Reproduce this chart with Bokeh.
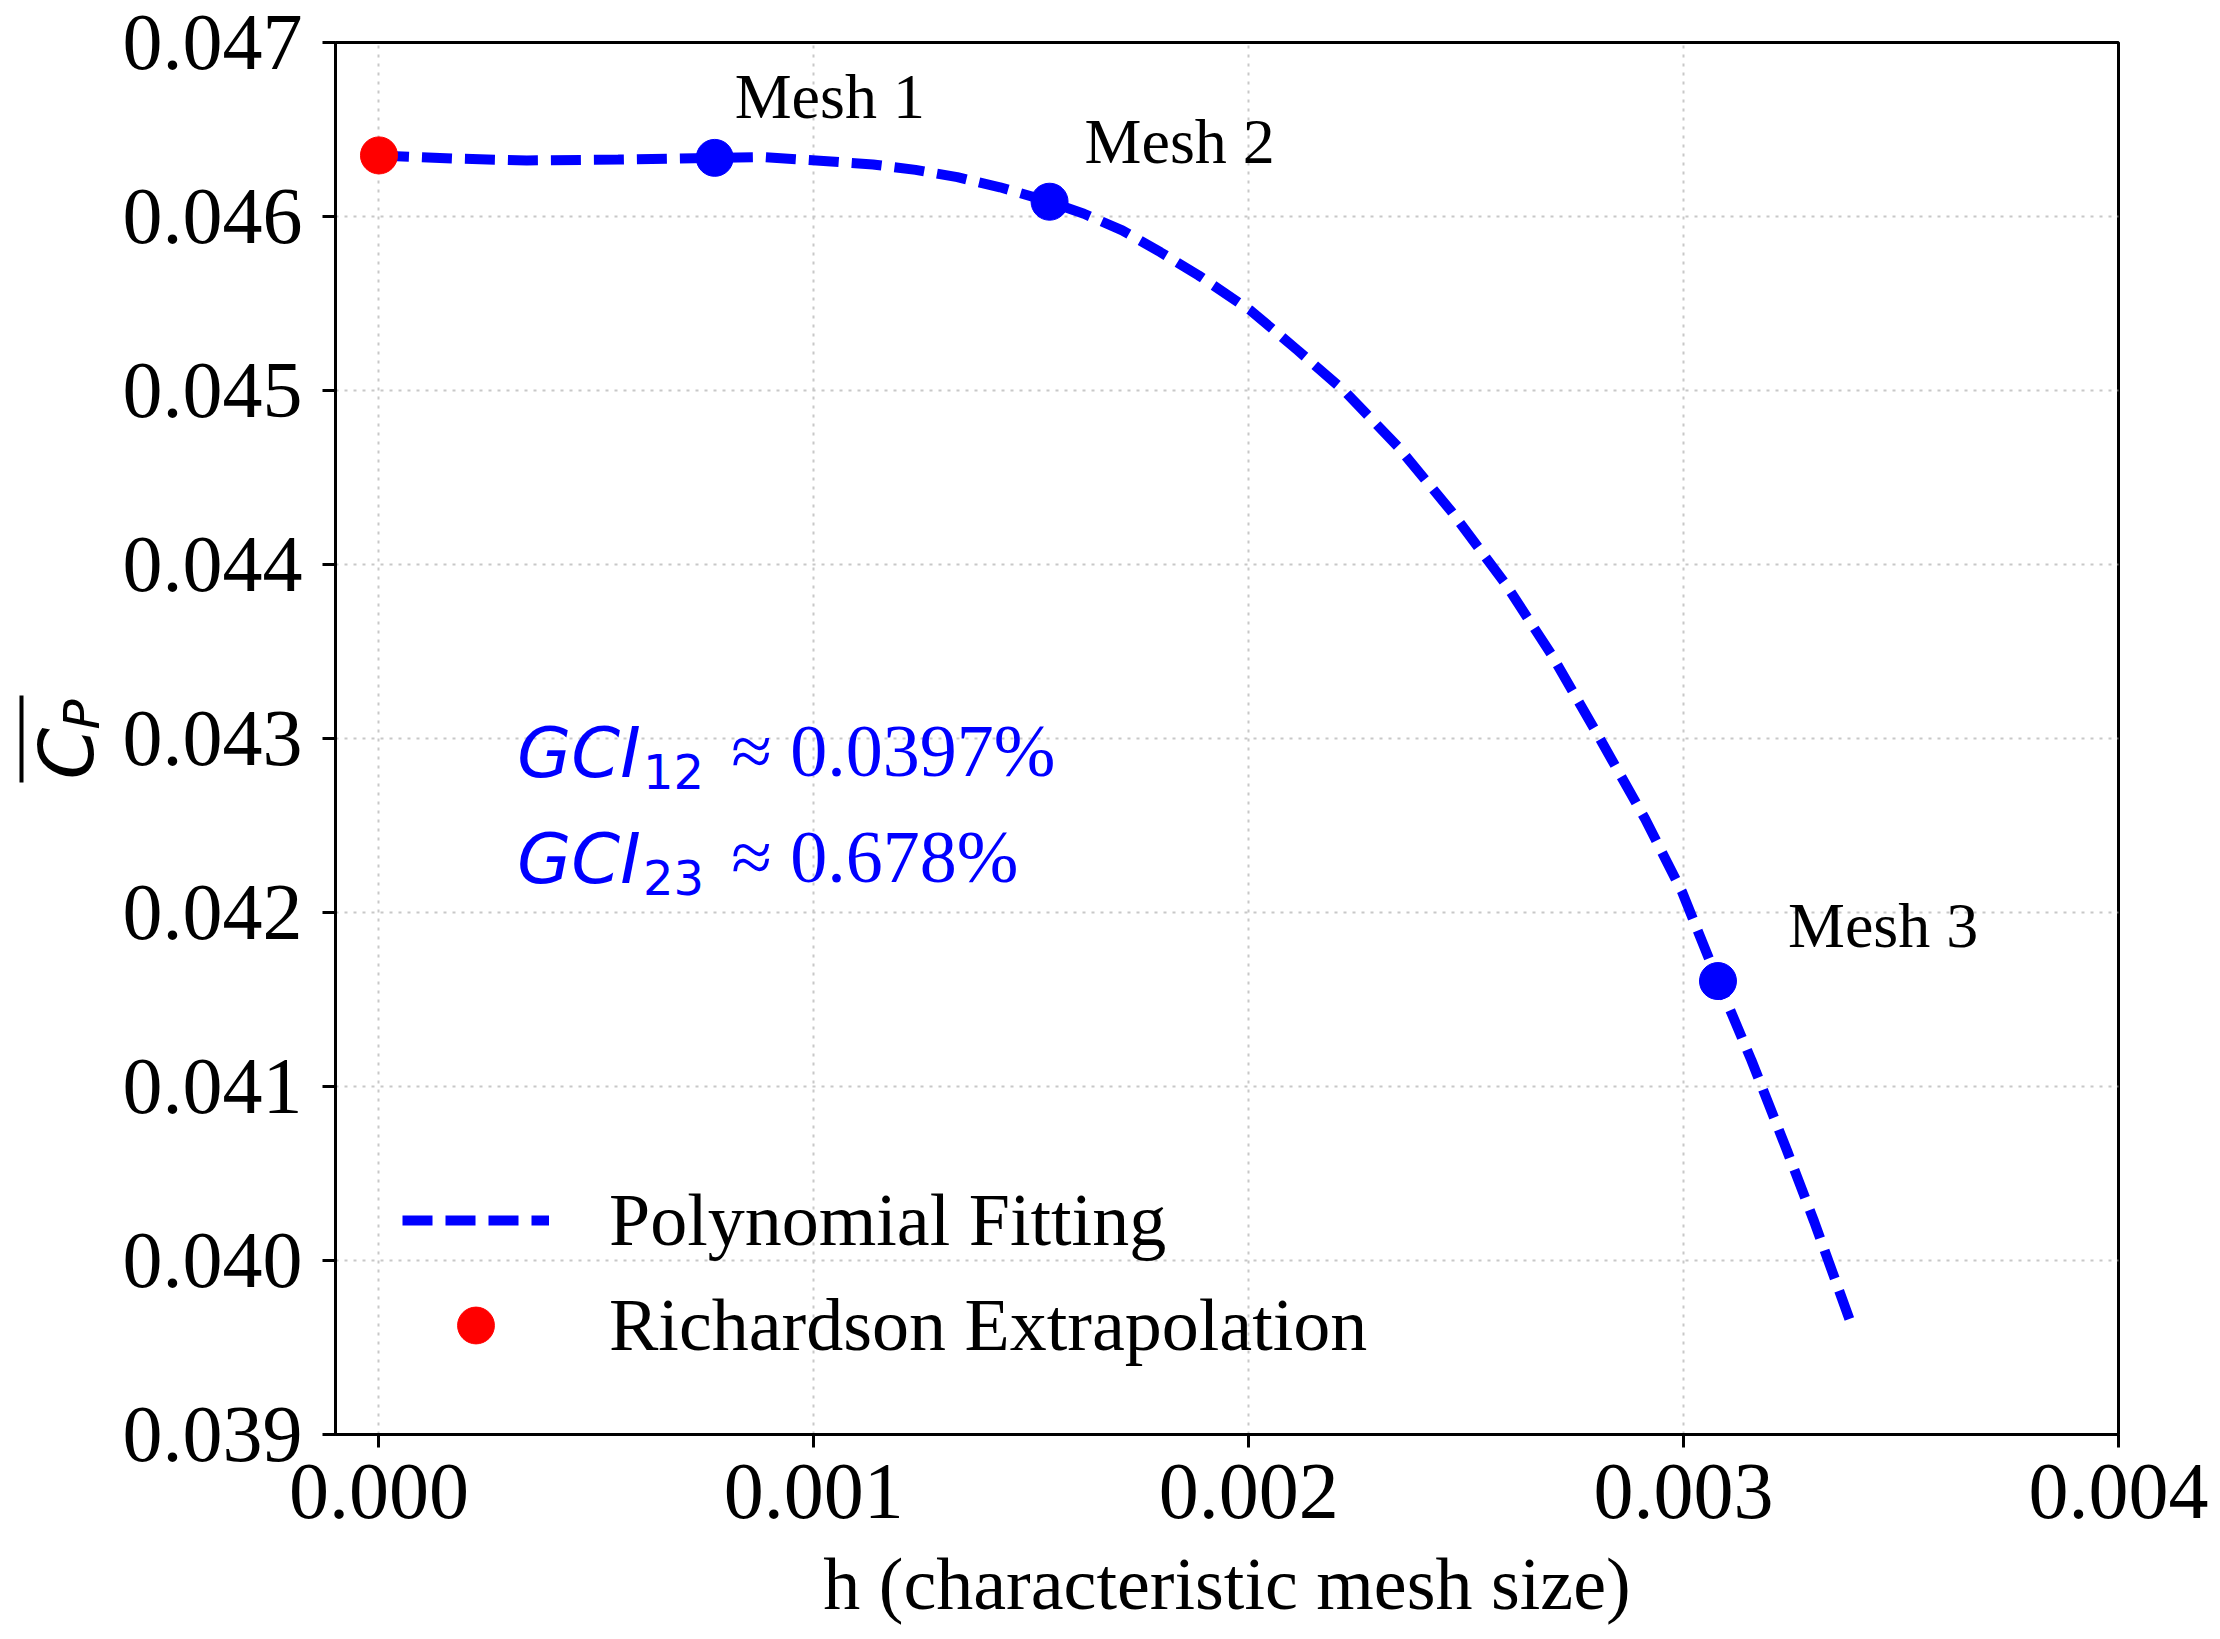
import math

from bokeh.core.properties import value
from bokeh.embed import file_html
from bokeh.layouts import row
from bokeh.models import FixedTicker, Label, Legend, LegendItem, Range1d
from bokeh.plotting import figure
from bokeh.resources import INLINE

# fitted curve
fit_h = [0.0, 0.00017, 0.00034, 0.00055, 0.000772, 0.000886, 0.001031, 0.001136,
         0.001234, 0.00133, 0.001428, 0.001542, 0.001621, 0.001709, 0.001797,
         0.001885, 0.002004, 0.002113, 0.002221, 0.002343, 0.002466, 0.002589,
         0.002696, 0.002803, 0.002911, 0.002996, 0.003079, 0.003156, 0.003238,
         0.0033, 0.003386]
fit_cp = [0.046351, 0.046333, 0.046322, 0.046327, 0.046337, 0.046341, 0.046318, 0.046299,
          0.046268, 0.046226, 0.046168, 0.046085, 0.046016, 0.04592, 0.045795,
          0.045661, 0.04546, 0.04523, 0.044995, 0.044677, 0.044305, 0.043893,
          0.043483, 0.043019, 0.04254, 0.042121, 0.041606, 0.04115, 0.04063,
          0.040225, 0.03963]

# mesh results
mesh_names = ["Mesh 1", "Mesh 2", "Mesh 3"]
mesh_h = [0.000772, 0.001542, 0.003079]
mesh_cp = [0.046337, 0.046085, 0.041606]

# richardson extrapolation
rich_h = [0.0]
rich_cp = [0.046351]

x_ticks = [0.0, 0.001, 0.002, 0.003, 0.004]
x_tick_labels = ["0.000", "0.001", "0.002", "0.003", "0.004"]
y_ticks = [0.039, 0.040, 0.041, 0.042, 0.043, 0.044, 0.045, 0.046, 0.047]
y_tick_labels = ["0.039", "0.040", "0.041", "0.042", "0.043", "0.044", "0.045", "0.046", "0.047"]

SERIF = "Liberation Serif"
SANS = "DejaVu Sans"

p = figure(frame_width=1783, frame_height=1392,
           x_range=Range1d(-0.0001, 0.004), y_range=Range1d(0.039, 0.047),
           output_backend="svg", toolbar_location=None)
p.min_border_left = 225
p.min_border_top = 42
p.min_border_right = 96
p.min_border_bottom = 196
p.background_fill_color = "white"
p.outline_line_color = "black"
p.outline_line_width = 3
p.outline_line_alpha = 1.0

# axes
p.xaxis.ticker = FixedTicker(ticks=x_ticks)
p.yaxis.ticker = FixedTicker(ticks=y_ticks)
p.xaxis.major_label_overrides = dict(zip(x_ticks, x_tick_labels))
p.yaxis.major_label_overrides = dict(zip(y_ticks, y_tick_labels))
for ax in (p.xaxis[0], p.yaxis[0]):
    ax.axis_line_width = 3
    ax.axis_line_color = "black"
    ax.major_tick_line_width = 3
    ax.major_tick_line_color = "black"
    ax.major_tick_out = 13
    ax.major_tick_in = 0
    ax.minor_tick_line_color = None
    ax.major_label_text_font = SERIF
    ax.major_label_text_font_size = "80px"
    ax.major_label_text_color = "black"
p.xaxis.major_label_standoff = 17
p.yaxis.major_label_standoff = 20

p.xaxis.axis_label = "h (characteristic mesh size)"
p.xaxis.axis_label_text_font = SERIF
p.xaxis.axis_label_text_font_size = "74px"
p.xaxis.axis_label_text_font_style = "normal"
p.xaxis.axis_label_text_color = "black"
p.xaxis.axis_label_standoff = 22

# grid
p.grid.grid_line_color = "#c8c8c8"
p.grid.grid_line_width = 2
p.grid.grid_line_dash = "3 6"

# curve and points
fit = p.line(fit_h, fit_cp, line_color="blue", line_width=10, line_dash="30 13")
p.scatter(mesh_h, mesh_cp, size=37, color="blue")
rich = p.scatter(rich_h, rich_cp, size=37, color="red")

# mesh labels (offsets in px, baseline lifted to sit above the dots)
mesh_offsets = [(20, 61), (35, 60), (70, 56)]
for name, hx, cy, (dx, dy) in zip(mesh_names, mesh_h, mesh_cp, mesh_offsets):
    p.add_layout(Label(x=hx, y=cy, x_offset=dx, y_offset=dy, text=name,
                       text_font=SERIF, text_font_size="64px", text_color="black",
                       text_baseline="alphabetic"))

# GCI annotation
gci_lines = [("12", "≈ 0.0397%", 0.042776), ("23", "≈ 0.678%", 0.042167)]
for sub, rest, base in gci_lines:
    p.add_layout(Label(x=0.0003175, y=base, y_offset=24, text="GCI", text_font=SANS,
                       text_font_style="italic", text_font_size="70px",
                       text_color="blue", text_baseline="alphabetic"))
    p.add_layout(Label(x=0.000607, y=base - 0.000058, y_offset=16, text=sub,
                       text_font=SANS, text_font_size="48px", text_color="blue",
                       text_baseline="alphabetic"))
    p.add_layout(Label(x=0.00081, y=base, y_offset=26, text=rest, text_font=SERIF,
                       text_font_size="74px", text_color="blue",
                       text_baseline="alphabetic"))

# legend
legend = Legend(items=[LegendItem(label="Polynomial Fitting", renderers=[fit]),
                       LegendItem(label="Richardson Extrapolation", renderers=[rich])],
                location=(67, 63))
legend.label_text_font = SERIF
legend.label_text_font_size = "74px"
legend.label_text_color = "black"
legend.glyph_width = 147
legend.glyph_height = 92
legend.label_height = 92
legend.label_standoff = 60
legend.spacing = 13
legend.padding = 0
legend.margin = 0
legend.border_line_alpha = 0
legend.background_fill_alpha = 0
p.add_layout(legend)

# y axis title strip: overlined C_P, drawn in pixel space
side = figure(frame_width=110, frame_height=1630, x_range=Range1d(0, 110),
              y_range=Range1d(1630, 0), min_border=0, x_axis_location=None,
              y_axis_location=None, output_backend="svg", toolbar_location=None)
side.outline_line_color = None
side.grid.visible = False
side.text(x=[66], y=[737], text=["C"], angle=math.pi / 2, text_font=value(SANS),
          text_font_style="italic", text_font_size="74px", text_color="black",
          text_align="left", text_baseline="alphabetic")
side.text(x=[81], y=[687], text=["P"], angle=math.pi / 2, text_font=value(SANS),
          text_font_style="italic", text_font_size="50px", text_color="black",
          text_align="left", text_baseline="alphabetic")
side.segment(x0=[21], y0=[653], x1=[21], y1=[740], line_color="black", line_width=4)

open("out.html", "w").write(file_html(row(side, p), INLINE))
